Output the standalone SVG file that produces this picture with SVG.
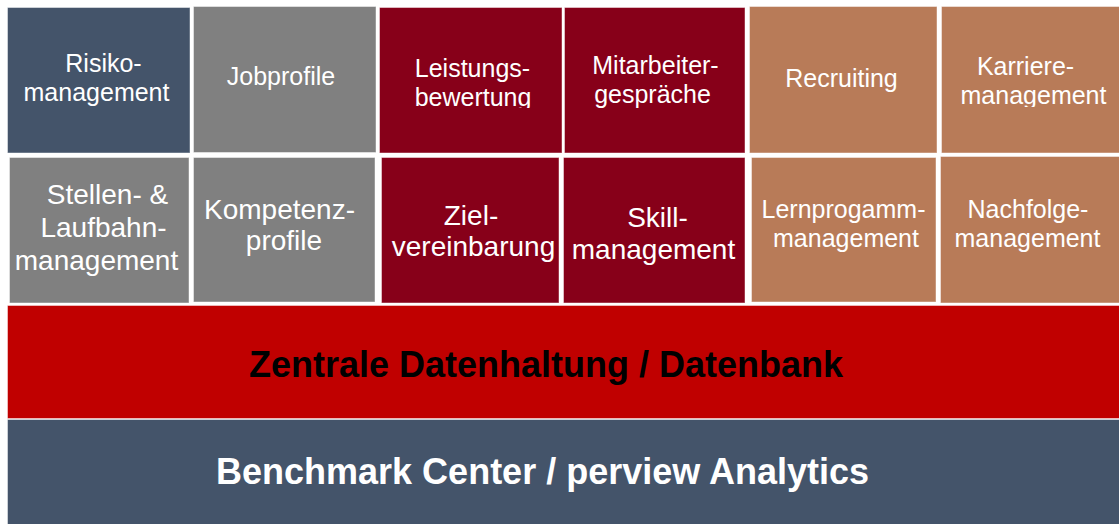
<svg xmlns="http://www.w3.org/2000/svg" width="1119" height="524" viewBox="0 0 1119 524">
<style>
.t{stroke:#ffffff;stroke-opacity:0.45;stroke-width:1}
.blue{fill:#44546A}
.grey{fill:#808080}
.dred{fill:#870019}
.cop{fill:#B87B58}
.lb{font-family:"Liberation Sans",Arial,sans-serif;fill:#ffffff;text-anchor:middle}
.s1{font-size:25px}
.s2{font-size:28px}
.band{font-family:"Liberation Sans",Arial,sans-serif;font-weight:bold;font-size:36px;text-anchor:middle}
</style>
<defs>
<clipPath id="c1"><rect x="379" y="7" width="183" height="101"/></clipPath>
<clipPath id="c2"><rect x="941" y="6" width="178" height="101"/></clipPath>
<clipPath id="c3"><rect x="563" y="157" width="182" height="108"/></clipPath>
</defs>
<rect width="1119" height="524" fill="#ffffff"/>
<g id="risiko"><rect class="t blue" x="7.5" y="7.5" width="182.5" height="145.5"/><text class="lb s1"><tspan x="103.5" y="72">Risiko-</tspan><tspan x="96.5" y="101">management</tspan></text></g>
<g id="jobprofile"><rect class="t grey" x="193.5" y="6.5" width="182.5" height="146"/><text class="lb s1" x="281" y="85">Jobprofile</text></g>
<g id="leistung"><rect class="t dred" x="379.5" y="7.5" width="182.5" height="145.5"/><text class="lb s1" clip-path="url(#c1)"><tspan x="472.5" y="77">Leistungs-</tspan><tspan x="473" y="106">bewertung</tspan></text></g>
<g id="mitarbeiter"><rect class="t dred" x="564.5" y="7.5" width="180.5" height="145.5"/><text class="lb s1"><tspan x="655.5" y="74">Mitarbeiter-</tspan><tspan x="652.5" y="103">gespräche</tspan></text></g>
<g id="recruiting"><rect class="t cop" x="749.5" y="6.5" width="187.5" height="146.5"/><text class="lb s1" x="841.5" y="87">Recruiting</text></g>
<g id="karriere"><rect class="t cop" x="941.5" y="6.5" width="178" height="146.5"/><text class="lb s1" clip-path="url(#c2)"><tspan x="1025.5" y="75">Karriere-</tspan><tspan x="1033.5" y="104">management</tspan></text></g>
<g id="stellen"><rect class="t grey" x="9.5" y="157.5" width="179.5" height="145.5"/><text class="lb s2"><tspan x="107.5" y="204">Stellen- &amp;</tspan><tspan x="103.5" y="237">Laufbahn-</tspan><tspan x="96.5" y="270">management</tspan></text></g>
<g id="kompetenz"><rect class="t grey" x="193.5" y="157.5" width="181.5" height="144.5"/><text class="lb s2"><tspan x="279.5" y="219">Kompetenz-</tspan><tspan x="284" y="250">profile</tspan></text></g>
<g id="ziel"><rect class="t dred" x="381.5" y="157.5" width="177.5" height="145.5"/><text class="lb s2"><tspan x="471" y="225">Ziel-</tspan><tspan x="473.5" y="256">vereinbarung</tspan></text></g>
<g id="skill"><rect class="t dred" x="563.5" y="157.5" width="181.5" height="145.5"/><text class="lb s2" clip-path="url(#c3)"><tspan x="657.5" y="227">Skill-</tspan><tspan x="653.5" y="259">management</tspan></text></g>
<g id="lernprogramm"><rect class="t cop" x="751.5" y="157.5" width="184.5" height="144.5"/><text class="lb s1"><tspan x="843.5" y="218">Lernprogamm-</tspan><tspan x="846" y="247">management</tspan></text></g>
<g id="nachfolge"><rect class="t cop" x="940.5" y="156.5" width="179" height="146.5"/><text class="lb s1"><tspan x="1028" y="218">Nachfolge-</tspan><tspan x="1027.5" y="247">management</tspan></text></g>
<g id="datenbank"><rect class="t" fill="#C00000" x="7.5" y="305.5" width="1112" height="113"/><text class="band" fill="#000000" x="546" y="377">Zentrale Datenhaltung / Datenbank</text></g>
<g id="benchmark"><rect class="t blue" x="7.5" y="419.5" width="1112" height="105"/><text class="band" fill="#ffffff" x="542.5" y="484">Benchmark Center / perview Analytics</text></g>
<g id="connectors"></g>
</svg>
